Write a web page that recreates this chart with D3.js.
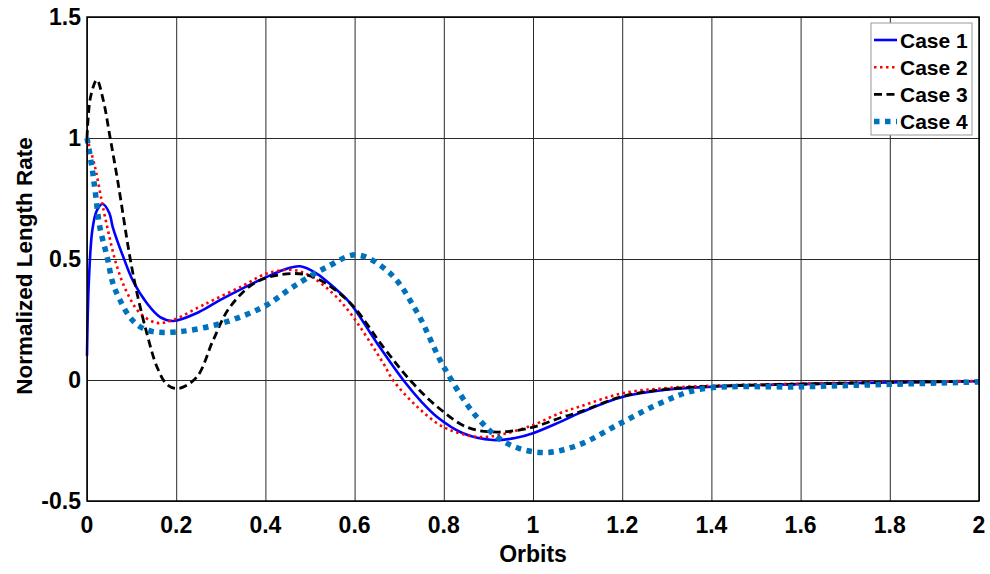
<!DOCTYPE html>
<html>
<head>
<meta charset="utf-8">
<script src="https://cdn.jsdelivr.net/npm/d3@7"></script>
<style>
body{margin:0;background:#fff}
text{font-family:Arial,"Liberation Sans",sans-serif;font-weight:bold;fill:#000}
</style>
</head>
<body>
<div id="chart"></div>
<script>
// values
var xTicks = [0,0.2,0.4,0.6,0.8,1,1.2,1.4,1.6,1.8,2]
var yTicks = [-0.5,0,0.5,1,1.5]
var seriesNames = ["Case 1","Case 2","Case 3","Case 4"]

var case1X = [0,0.004,0.012,0.022,0.035,0.05,0.058,0.081,0.103,0.134,0.164,0.193,0.25,0.298,0.35,0.403,0.44,0.478,0.515,0.552,0.59,0.65,0.709,0.75,0.785,0.843,0.91,0.96,1.0,1.06,1.105,1.2,1.3,1.4,1.6,1.8,2.0]
var case1Y = [0.1,0.4,0.62,0.70,0.727,0.69,0.63,0.51,0.41,0.318,0.26,0.244,0.28,0.33,0.38,0.426,0.455,0.47,0.44,0.385,0.318,0.153,0,-0.09,-0.153,-0.22,-0.248,-0.24,-0.22,-0.174,-0.136,-0.07,-0.04,-0.028,-0.017,-0.01,-0.005]

var case2X = [0,0.018,0.033,0.048,0.067,0.09,0.119,0.157,0.193,0.25,0.283,0.35,0.403,0.462,0.5,0.55,0.59,0.664,0.686,0.74,0.8,0.874,0.93,1.0,1.06,1.105,1.2,1.3,1.4,1.6,1.8,2.0]
var case2Y = [1.0,0.88,0.74,0.61,0.47,0.36,0.276,0.236,0.248,0.3,0.33,0.39,0.44,0.455,0.43,0.36,0.277,0.07,0,-0.11,-0.195,-0.235,-0.225,-0.186,-0.137,-0.11,-0.055,-0.033,-0.024,-0.015,-0.008,-0.004]

var case3X = [0,0.008,0.022,0.036,0.052,0.07,0.096,0.112,0.134,0.157,0.18,0.205,0.246,0.283,0.32,0.38,0.462,0.515,0.59,0.664,0.724,0.785,0.852,0.92,1.0,1.06,1.105,1.2,1.3,1.4,1.6,1.8,2.0]
var case3Y = [1.0,1.17,1.24,1.16,1.0,0.81,0.51,0.36,0.194,0.054,-0.02,-0.035,0.012,0.165,0.30,0.405,0.44,0.42,0.318,0.137,0,-0.11,-0.195,-0.215,-0.195,-0.157,-0.132,-0.068,-0.038,-0.026,-0.017,-0.01,-0.005]

var case4X = [0,0.011,0.018,0.029,0.045,0.058,0.074,0.096,0.119,0.148,0.209,0.283,0.35,0.403,0.462,0.538,0.605,0.68,0.74,0.8,0.874,0.94,1.02,1.1,1.195,1.285,1.375,1.6,1.8,2.0]
var case4Y = [1.0,0.88,0.785,0.63,0.51,0.40,0.33,0.26,0.22,0.2,0.2,0.225,0.265,0.31,0.385,0.467,0.517,0.44,0.28,0.054,-0.153,-0.26,-0.3,-0.27,-0.18,-0.096,-0.038,-0.028,-0.018,-0.008]

var colors = ["#0000ff","#ff0000","#000000","#0072bd"]
var widths = [2.6,2.6,2.8,5.5]
var dashes = [null,"2.5,3.5","8,4.5","5.5,5.5"]

var w = 990
var h = 574
var plotLeft = 87, plotRight = 979, plotTop = 17, plotBottom = 501

function makePoints(xs,ys){
    var pts = []
    for(var i in xs){
        pts.push({x:xs[i],y:ys[i]})
    }
    return pts
}

var series = [
    makePoints(case1X,case1Y),
    makePoints(case2X,case2Y),
    makePoints(case3X,case3Y),
    makePoints(case4X,case4Y)
]

var xScale = d3.scaleLinear().domain([0,2]).range([plotLeft,plotRight])
var yScale = d3.scaleLinear().domain([-0.5,1.5]).range([plotBottom,plotTop])

var svg = d3.select("#chart").append("svg").attr("width",w).attr("height",h)

// grid
svg.append("g").attr("class","xgrid")
    .attr("transform","translate(0,"+plotBottom+")")
    .call(d3.axisBottom(xScale).tickValues(xTicks).tickSize(-(plotBottom-plotTop)).tickFormat(""))
    .call(function(g){g.select(".domain").remove()})
    .selectAll("line").attr("stroke","#2a2a2a").attr("stroke-width",1)

svg.append("g").attr("class","ygrid")
    .attr("transform","translate("+plotLeft+",0)")
    .call(d3.axisLeft(yScale).tickValues(yTicks).tickSize(-(plotRight-plotLeft)).tickFormat(""))
    .call(function(g){g.select(".domain").remove()})
    .selectAll("line").attr("stroke","#2a2a2a").attr("stroke-width",1)

// tick labels
svg.selectAll(".xlab")
    .data(xTicks)
    .enter()
    .append("text")
    .attr("class","xlab")
    .attr("x",function(d){return xScale(d)})
    .attr("y",plotBottom+32)
    .attr("text-anchor","middle")
    .style("font-size","23px")
    .text(function(d){return d})

svg.selectAll(".ylab")
    .data(yTicks)
    .enter()
    .append("text")
    .attr("class","ylab")
    .attr("x",plotLeft-6)
    .attr("y",function(d){return yScale(d)+8})
    .attr("text-anchor","end")
    .style("font-size","23px")
    .text(function(d){return d})

// lines
var line = d3.line()
    .x(function(d){return xScale(d.x)})
    .y(function(d){return yScale(d.y)})
    .curve(d3.curveCatmullRom.alpha(0.5))

svg.selectAll(".series")
    .data(series)
    .enter()
    .append("path")
    .attr("class","series")
    .attr("d",line)
    .attr("fill","none")
    .attr("stroke",function(d,i){return colors[i]})
    .attr("stroke-width",function(d,i){return widths[i]})
    .attr("stroke-dasharray",function(d,i){return dashes[i]})

// box
svg.append("rect")
    .attr("x",plotLeft).attr("y",plotTop)
    .attr("width",plotRight-plotLeft).attr("height",plotBottom-plotTop)
    .attr("fill","none").attr("stroke","#000").attr("stroke-width",1.5)

// axis titles
svg.append("text")
    .attr("x",(plotLeft+plotRight)/2)
    .attr("y",562)
    .attr("text-anchor","middle")
    .style("font-size","23px")
    .text("Orbits")

svg.append("text")
    .attr("transform","translate(32,266) rotate(-90)")
    .attr("text-anchor","middle")
    .style("font-size","22.5px")
    .text("Normalized Length Rate")

// legend
var legend = svg.append("g").attr("class","legend")
legend.append("rect")
    .attr("x",871).attr("y",23)
    .attr("width",101).attr("height",112)
    .attr("fill","#fff").attr("stroke","#999").attr("stroke-width",1)

legend.selectAll(".legline")
    .data(seriesNames)
    .enter()
    .append("line")
    .attr("class","legline")
    .attr("x1",874).attr("x2",897)
    .attr("y1",function(d,i){return 40+i*27.2})
    .attr("y2",function(d,i){return 40+i*27.2})
    .attr("stroke",function(d,i){return colors[i]})
    .attr("stroke-width",function(d,i){return widths[i]})
    .attr("stroke-dasharray",function(d,i){return dashes[i]})

legend.selectAll(".legtext")
    .data(seriesNames)
    .enter()
    .append("text")
    .attr("class","legtext")
    .attr("x",900)
    .attr("y",function(d,i){return 47.5+i*27.2})
    .style("font-size","21px")
    .text(function(d){return d})
</script>
</body>
</html>
